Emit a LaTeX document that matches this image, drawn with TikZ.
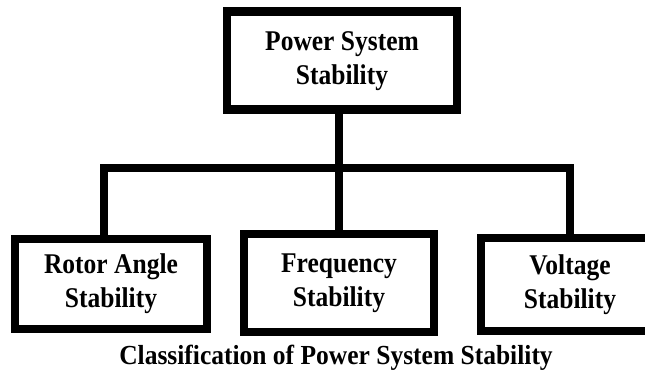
\documentclass[tikz,border=0pt]{standalone}
\usepackage{fontspec}
\setmainfont{Liberation Serif}
\usepackage{graphicx}
\usepackage{tikz}
\newcommand{\talltext}[1]{\scalebox{1}[1.12]{\begin{tabular}{@{}c@{}}#1\end{tabular}}}
\tikzset{every picture/.append style={x=1pt,y=1pt}}
\tikzset{
    stabbox/.style={draw, line width=8.5pt, align=center, inner sep=0pt,
    	font=\fontsize{25.5}{30}\selectfont\bfseries},
    bus/.style={line width=8.5pt}
}

\begin{document}
\begin{tikzpicture}
	\useasboundingbox (0,0) rectangle (645,375);
	\clip (0,0) rectangle (645,375);
	\node [stabbox, minimum width=230, minimum height=98] (pss) at (342,314.5) {\talltext{Power System\\Stability}};
	\node [stabbox, minimum width=192, minimum height=90] (rotor) at (111,91) {\talltext{Rotor Angle\\Stability}};
	\node [stabbox, minimum width=190, minimum height=98] (freq) at (339,92) {\talltext{Frequency\\Stability}};
	\node [stabbox, minimum width=178, minimum height=93] (volt) at (570,90.5) {\talltext{Voltage\\Stability}};
	\coordinate (busL) at (104,207);
	\coordinate (busR) at (570,207);
	\draw [bus] (rotor.north -| busL) -- (busL) -- (busR) -- (volt.north -| busR);
	\draw [bus] (pss.south -| freq.north) -- (freq.north);
	\node [font=\fontsize{25.5}{30}\selectfont\bfseries, inner sep=0pt] (title) at (336,17) {\scalebox{1}[1.08]{Classification of Power System Stability}};
\end{tikzpicture}
\end{document}
